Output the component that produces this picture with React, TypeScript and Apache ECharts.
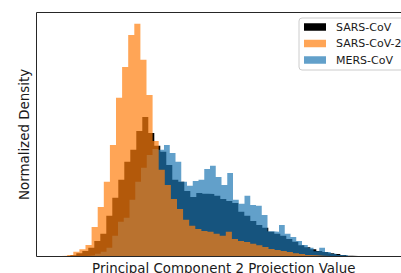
import React, { useEffect, useRef } from 'react';
import * as echarts from 'echarts';

const seriesNames = ['SARS-CoV', 'SARS-CoV-2', 'MERS-CoV'];
const xLabel = 'Principal Component 2 Projection Value';
const yLabel = 'Normalized Density';
const xRange = [-3, 7];
const yMax = 0.61;

// SARS-CoV (black)
const sarsCovRange = [-2.418, 5.593];
const sarsCovDensity = [
  0.0003, 0.0005, 0.003, 0.008, 0.014, 0.022, 0.039, 0.057, 0.102, 0.147,
  0.192, 0.237, 0.267, 0.314, 0.349, 0.309, 0.277, 0.262, 0.229, 0.192,
  0.187, 0.164, 0.149, 0.159, 0.157, 0.156, 0.152, 0.144, 0.139, 0.134,
  0.112, 0.102, 0.089, 0.079, 0.072, 0.062, 0.057, 0.052, 0.044, 0.037,
  0.028, 0.023, 0.018, 0.014, 0.011, 0.008, 0.006, 0.004, 0.002, 0.001,
];

// SARS-CoV-2 (orange)
const sarsCov2Range = [-2.506, 5.638];
const sarsCov2Density = [
  0.001, 0.002, 0.004, 0.012, 0.018, 0.029, 0.074, 0.124, 0.187, 0.279,
  0.397, 0.474, 0.554, 0.582, 0.492, 0.404, 0.289, 0.217, 0.179, 0.144,
  0.119, 0.092, 0.077, 0.069, 0.064, 0.062, 0.057, 0.052, 0.062, 0.044,
  0.039, 0.036, 0.032, 0.028, 0.024, 0.019, 0.016, 0.014, 0.011, 0.008,
  0.006, 0.004, 0.003, 0.002, 0.001, 0.001, 0.001, 0.001, 0.0003, 0.0003,
];

// MERS-CoV (blue)
const mersCovRange = [-2.052, 5.625];
const mersCovDensity = [
  0.0003, 0.0005, 0.002, 0.003, 0.007, 0.012, 0.022, 0.052, 0.087, 0.097,
  0.142, 0.187, 0.222, 0.254, 0.269, 0.267, 0.279, 0.259, 0.237, 0.187,
  0.177, 0.189, 0.192, 0.219, 0.227, 0.199, 0.179, 0.209, 0.142, 0.132,
  0.152, 0.129, 0.127, 0.104, 0.063, 0.062, 0.079, 0.057, 0.049, 0.039,
  0.029, 0.022, 0.013, 0.022, 0.011, 0.007, 0.004, 0.003, 0.001, 0.0005,
];

const colors = { black: '#000000', orange: '#ff7f0e', blue: '#1f77b4' };

function histSteps(range: number[], density: number[]) {
  const w = (range[1] - range[0]) / density.length;
  const pts: number[][] = density.map((d, i) => [range[0] + i * w, d]);
  pts.push([range[1], 0]);
  return pts;
}

function histSeries(name: string, range: number[], density: number[], color: string, opacity: number) {
  return {
    name,
    type: 'line',
    step: 'end',
    data: histSteps(range, density),
    symbol: 'none',
    showSymbol: false,
    silent: true,
    color,
    itemStyle: { color, opacity },
    lineStyle: { width: 0, opacity: 0 },
    areaStyle: { color, opacity },
  };
}

export default function App() {
  const ref = useRef<HTMLDivElement>(null);
  useEffect(() => {
    if (!ref.current) return;
    const chart = echarts.init(ref.current, undefined, { renderer: 'svg' });
    const font = 'DejaVu Sans';
    chart.setOption({
      animation: false,
      backgroundColor: '#ffffff',
      grid: {
        show: true,
        z: 10,
        left: 36.5,
        top: 12.5,
        bottom: 16.5,
        right: -10,
        outerBoundsMode: 'none',
        containLabel: false,
        borderColor: '#262626',
        borderWidth: 1,
        backgroundColor: 'transparent',
      },
      xAxis: {
        type: 'value',
        min: xRange[0],
        max: xRange[1],
        axisLine: { show: false },
        axisTick: { show: false },
        axisLabel: { show: false },
        splitLine: { show: false },
        name: xLabel,
        nameLocation: 'middle',
        nameGap: 5,
        nameTextStyle: { fontFamily: font, fontSize: 13.4, color: '#1a1a1a' },
      },
      yAxis: {
        type: 'value',
        min: 0,
        max: yMax,
        axisLine: { show: false },
        axisTick: { show: false },
        axisLabel: { show: false },
        splitLine: { show: false },
        name: yLabel,
        nameLocation: 'middle',
        nameGap: 6,
        nameTextStyle: { fontFamily: font, fontSize: 13.4, color: '#1a1a1a' },
      },
      legend: {
        orient: 'vertical',
        left: 299,
        top: 18,
        padding: [2, 5, 3, 5],
        itemWidth: 22,
        itemHeight: 7.5,
        itemGap: 2.5,
        icon: 'rect',
        backgroundColor: 'rgba(255,255,255,0.8)',
        borderColor: '#cccccc',
        borderWidth: 1,
        borderRadius: 3,
        selectedMode: false,
        itemStyle: { borderWidth: 0 },
        textStyle: { fontFamily: font, fontSize: 11, lineHeight: 14, color: '#1a1a1a', padding: [0, 0, 0, 5] },
        data: [
          { name: seriesNames[0], itemStyle: { color: colors.black, opacity: 1 } },
          { name: seriesNames[1], itemStyle: { color: colors.orange, opacity: 0.7 } },
          { name: seriesNames[2], itemStyle: { color: colors.blue, opacity: 0.7 } },
        ],
      },
      series: [
        histSeries(seriesNames[0], sarsCovRange, sarsCovDensity, colors.black, 1),
        histSeries(seriesNames[2], mersCovRange, mersCovDensity, colors.blue, 0.7),
        histSeries(seriesNames[1], sarsCov2Range, sarsCov2Density, colors.orange, 0.7),
      ],
    });
    return () => chart.dispose();
  }, []);
  return (
    <div
      ref={ref}
      style={{ position: 'fixed', left: 0, top: 0, width: 401, height: 273 }}
    />
  );
}
